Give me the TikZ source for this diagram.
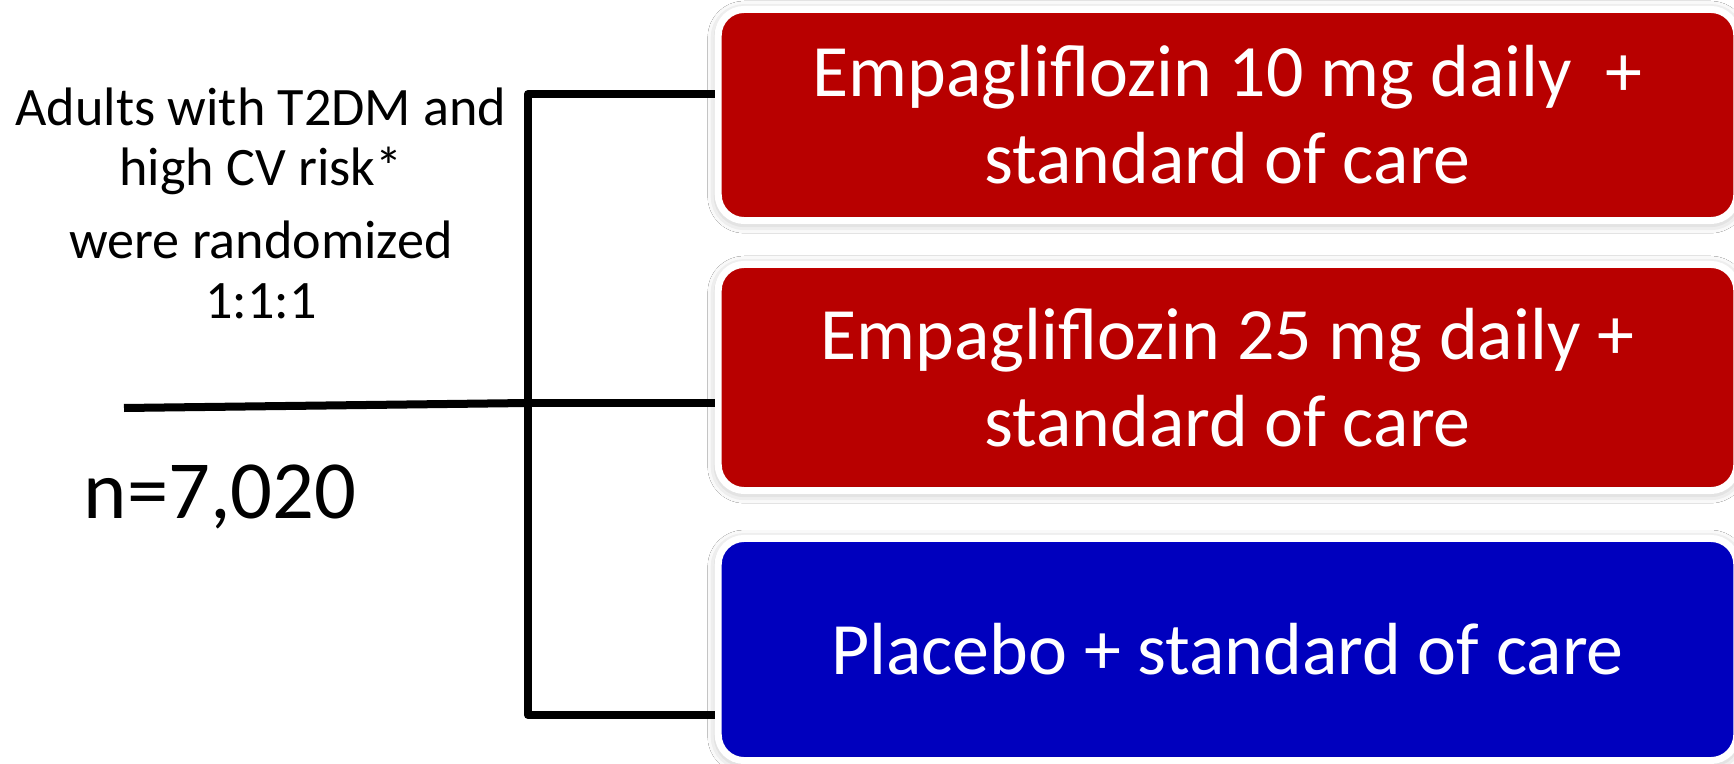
\documentclass[tikz,border=0pt]{standalone}
\usepackage{fontspec}
\setmainfont{Carlito}
\usetikzlibrary{shadows.blur}
\definecolor{armred}{RGB}{184,0,0}
\definecolor{armredhi}{RGB}{212,0,0}
\definecolor{armredlo}{RGB}{135,0,0}
\definecolor{armblue}{RGB}{0,0,190}
\definecolor{armbluehi}{RGB}{0,0,222}
\definecolor{armbluelo}{RGB}{0,0,130}
% flat fill with a thin highlight on top and a darker rim at the bottom
\pgfdeclareverticalshading{redbevel}{100bp}{color(0bp)=(armredlo); color(25bp)=(armredlo);
  color(26.2bp)=(armred); color(73.8bp)=(armred); color(75bp)=(armredhi); color(100bp)=(armredhi)}
\pgfdeclareverticalshading{bluebevel}{100bp}{color(0bp)=(armbluelo); color(25bp)=(armbluelo);
  color(26.2bp)=(armblue); color(73.8bp)=(armblue); color(75bp)=(armbluehi); color(100bp)=(armbluehi)}
\tikzset{
  arm/.style={draw=white, line width=0.07cm, rounded corners=0.26cm, text=white,
    align=center, inner sep=0pt, minimum width=10.18cm,
    font=\fontsize{21}{24.75}\selectfont,
    blur shadow={shadow xshift=0pt, shadow yshift=-0.6pt, shadow blur radius=3pt, shadow opacity=35}},
  redarm/.style={arm, shade, shading=redbevel},
  bluearm/.style={arm, shade, shading=bluebevel},
  trunk/.style={line width=0.08cm, line join=round, line cap=butt},
  caption/.style={text=black, inner sep=0pt},
}
\begin{document}
\begin{tikzpicture}[x=0.01cm, y=-0.01cm]
  \useasboundingbox (0,0) rectangle (1734,764);
  \fill[white] (0,0) rectangle (1734,764);

  % treatment arms
  \node[redarm,  minimum height=2.11cm] (b1) at (1227.5,115)
    {Empagliflozin 10 mg daily\ \ +\\standard of care};
  \node[redarm,  minimum height=2.26cm] (b2) at (1227.5,377.5)
    {Empagliflozin 25 mg daily +\\standard of care};
  \node[bluearm, minimum height=2.22cm] (b3) at (1227.5,649.5)
    {Placebo + standard of care};

  % population description
  \node[caption, align=center, anchor=base,
        font=\fontsize{15.4}{17.1}\selectfont] (crit) at (261,319)
    {Adults with T2DM and\\high CV risk*\\[3.7pt]were randomized\\1:1:1};
  \node[caption, anchor=base west, font=\fontsize{23.5}{28}\selectfont] (n) at (83,518)
    {n=7,020};

  % randomisation tree
  \coordinate (src)  at (124,408);
  \coordinate (ttop) at (528,94);
  \coordinate (tmid) at (528,403);
  \coordinate (tbot) at (528,715);
  \draw[trunk] (ttop -| b1.west) -- (ttop) -- (tbot) -- (tbot -| b3.west);
  \draw[trunk] (tmid) -- (tmid -| b2.west);
  \draw[trunk] (src) -- (tmid);
\end{tikzpicture}
\end{document}
